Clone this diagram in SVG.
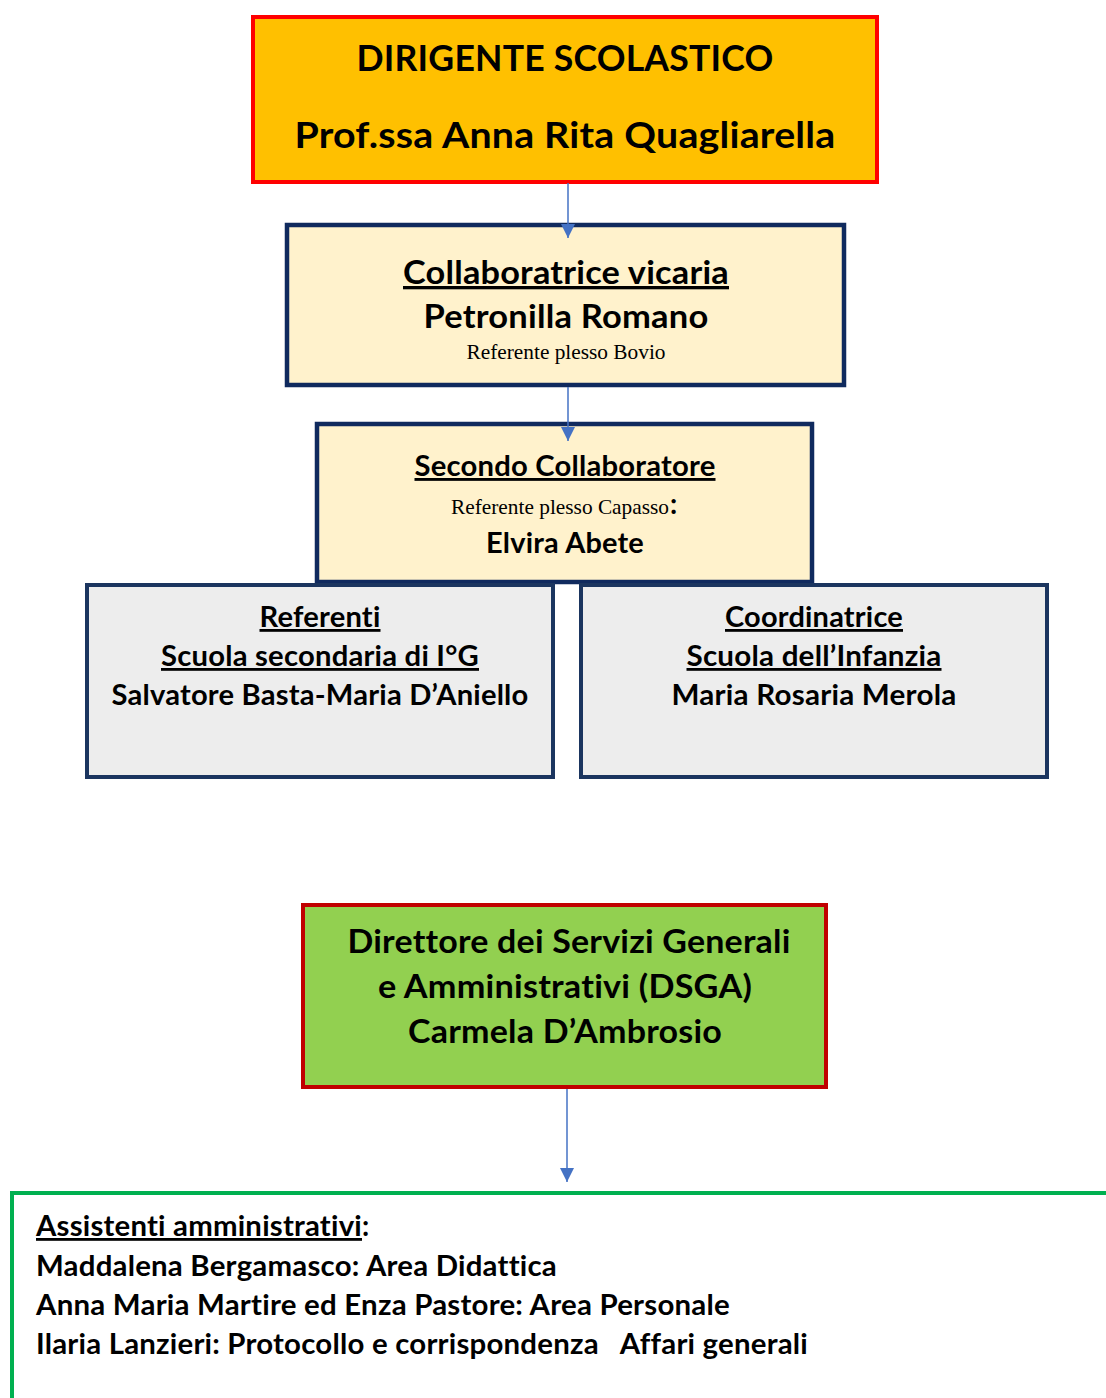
<svg xmlns="http://www.w3.org/2000/svg" width="1106" height="1398" viewBox="0 0 1106 1398">
<style>
.b{font-family:Lato,"Liberation Sans",sans-serif;font-weight:bold;fill:#000;font-variant-ligatures:none;font-feature-settings:"liga" 0,"clig" 0,"dlig" 0;letter-spacing:0.2px;}
.s{font-family:"Liberation Serif","DejaVu Serif",serif;font-size:21px;fill:#000;}
.c{text-anchor:middle;}
.u{text-decoration:underline;}
.nav{fill:#FFF2CC;stroke:#102A5E;stroke-width:4.5;}
.grey{fill:#EDEDED;stroke:#1B355F;stroke-width:4;}
.conn{stroke:#4472C4;stroke-width:1.5;fill:none;}
</style>
<defs>
<marker id="arr" viewBox="0 0 14 14" refX="14" refY="7" markerWidth="14" markerHeight="14" markerUnits="userSpaceOnUse" orient="auto">
<path d="M0,0 L14,7 L0,14 z" fill="#4472C4"/>
</marker>
</defs>
<rect width="1106" height="1398" fill="#fff"/>

<g id="dirigente">
<rect x="253" y="17" width="624" height="165" fill="#FFC000" stroke="#FF0000" stroke-width="4"/>
<text class="b c" x="565" y="71" font-size="37" textLength="417" lengthAdjust="spacingAndGlyphs">DIRIGENTE SCOLASTICO</text>
<text class="b c" x="565" y="148" font-size="37" textLength="541" lengthAdjust="spacingAndGlyphs">Prof.ssa Anna Rita Quagliarella</text>
</g>

<g id="vicaria">
<rect class="nav" x="287" y="225" width="557" height="160"/>
<text class="b c u" x="566" y="284" font-size="33" textLength="326" lengthAdjust="spacingAndGlyphs">Collaboratrice vicaria</text>
<text class="b c" x="566" y="328" font-size="33" textLength="285" lengthAdjust="spacingAndGlyphs">Petronilla Romano</text>
<text class="s c" x="566" y="359" textLength="199" lengthAdjust="spacingAndGlyphs">Referente plesso Bovio</text>
</g>

<g id="secondo">
<rect class="nav" x="317" y="424" width="495" height="158"/>
<text class="b c u" x="565" y="476" font-size="28.5" textLength="301" lengthAdjust="spacingAndGlyphs">Secondo Collaboratore</text>
<text class="s" x="451" y="514" textLength="218" lengthAdjust="spacingAndGlyphs">Referente plesso Capasso</text>
<text class="b" x="670" y="514" font-size="28">:</text>
<text class="b c" x="565" y="553" font-size="28.5" textLength="158" lengthAdjust="spacingAndGlyphs">Elvira Abete</text>
</g>

<g id="referenti">
<rect class="grey" x="87" y="585" width="466" height="192"/>
<text class="b c u" x="320" y="627" font-size="28" textLength="121" lengthAdjust="spacingAndGlyphs">Referenti</text>
<text class="b c u" x="320" y="666" font-size="28" textLength="318" lengthAdjust="spacingAndGlyphs">Scuola secondaria di I°G</text>
<text class="b c" x="320" y="705" font-size="28" textLength="417" lengthAdjust="spacingAndGlyphs">Salvatore Basta-Maria D’Aniello</text>
</g>

<g id="coordinatrice">
<rect class="grey" x="581" y="585" width="466" height="192"/>
<text class="b c u" x="814" y="627" font-size="28" textLength="178" lengthAdjust="spacingAndGlyphs">Coordinatrice</text>
<text class="b c u" x="814" y="666" font-size="28" textLength="255" lengthAdjust="spacingAndGlyphs">Scuola dell’Infanzia</text>
<text class="b c" x="814" y="705" font-size="28" textLength="285" lengthAdjust="spacingAndGlyphs">Maria Rosaria Merola</text>
</g>

<g id="dsga">
<rect x="303" y="905" width="523" height="182" fill="#92D050" stroke="#C00000" stroke-width="4"/>
<text class="b c" x="569" y="953" font-size="33" textLength="443" lengthAdjust="spacingAndGlyphs">Direttore dei Servizi Generali</text>
<text class="b c" x="565" y="998" font-size="33" textLength="374" lengthAdjust="spacingAndGlyphs">e Amministrativi (DSGA)</text>
<text class="b c" x="565" y="1043" font-size="33" textLength="314" lengthAdjust="spacingAndGlyphs">Carmela D’Ambrosio</text>
</g>

<g id="assistenti">
<rect x="12" y="1193" width="1200" height="300" fill="none" stroke="#00B050" stroke-width="4"/>
<text class="b" x="36" y="1236" font-size="28"><tspan class="u" textLength="326" lengthAdjust="spacingAndGlyphs">Assistenti amministrativi</tspan>:</text>
<text class="b" x="36" y="1276" font-size="28" textLength="521" lengthAdjust="spacingAndGlyphs">Maddalena Bergamasco: Area Didattica</text>
<text class="b" x="36" y="1315" font-size="28" textLength="694" lengthAdjust="spacingAndGlyphs">Anna Maria Martire ed Enza Pastore: Area Personale</text>
<text class="b" x="36" y="1354" font-size="28" textLength="772" lengthAdjust="spacingAndGlyphs" xml:space="preserve">Ilaria Lanzieri: Protocollo e corrispondenza   Affari generali</text>
</g>

<g id="connectors">
<line class="conn" x1="568" y1="183" x2="568" y2="238" marker-end="url(#arr)"/>
<line class="conn" x1="568" y1="387" x2="568" y2="441" marker-end="url(#arr)"/>
<line class="conn" x1="567" y1="1089" x2="567" y2="1182" marker-end="url(#arr)"/>
</g>
</svg>
